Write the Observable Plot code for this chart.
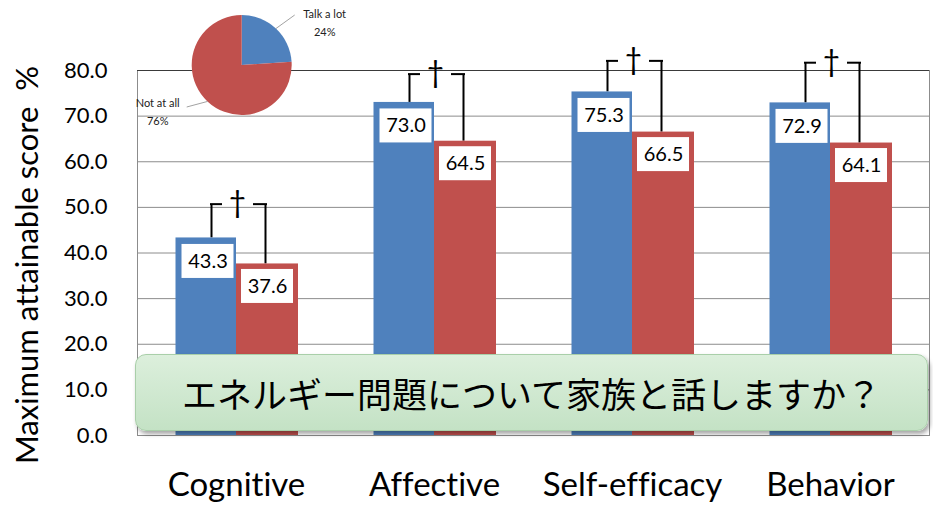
<!DOCTYPE html>
<html>
<head>
<meta charset="utf-8">
<script src="https://cdn.jsdelivr.net/npm/d3@7"></script>
<script src="https://cdn.jsdelivr.net/npm/@observablehq/plot@0.6"></script>
<style>
  body { margin: 0; background: #fff; }
  #chart { position: relative; width: 933px; height: 505px; font-family: Lato, sans-serif; font-variant-ligatures: none; }
  #chart > svg { position: absolute; left: 0; top: 0; }
  #chart text { font-variant-ligatures: none; }
  #chart [aria-label^="x-axis"] text { font-size: 33px; fill: #000; }
  #chart [aria-label^="y-axis"] text { font-size: 22px; fill: #000; }
  #question {
    position: absolute; left: 135px; top: 354px; width: 793px; height: 77px;
    box-sizing: border-box; border: 1px solid #a9cfa9; border-radius: 11px;
    background: linear-gradient(#dcefdc, #c4e2c5);
    box-shadow: 2px 3px 4px rgba(0,0,0,0.35);
    display: flex; align-items: center; justify-content: center;
    font-family: "Noto Sans CJK JP", sans-serif; font-size: 35px; color: #000;
  }
</style>
</head>
<body>
<div id="chart"></div>
<script>
// Score categories and the two groups of respondents
const categories = ["Cognitive", "Affective", "Self-efficacy", "Behavior"];
const talkALot = [43.3, 73.0, 75.3, 72.9];
const notAtAll = [37.6, 64.5, 66.5, 64.1];
// Height of each significance bracket (†)
const bracketTop = [50.6, 79.1, 82.0, 81.6];
const yTicks = [0, 10, 20, 30, 40, 50, 60, 70, 80];
const yTitle = "Maximum attainable score  %";

// Inset pie: share of respondents per answer
const pieLabels = ["Talk a lot", "Not at all"];
const pieShares = [24, 76];

const question = "エネルギー問題について家族と話しますか？";

const blue = "#4F81BD";
const red = "#C0504D";
const gridColor = "#8c8c8c";

const rows = categories.map((category, i) => ({
  category,
  talk: talkALot[i],
  not: notAtAll[i],
  top: bracketTop[i]
}));

const chart = Plot.plot({
  width: 933,
  height: 505,
  marginLeft: 137,
  marginRight: 4,
  marginTop: 70,
  marginBottom: 70,
  style: { fontFamily: "Lato, sans-serif", fontSize: "22px", background: "transparent", color: "#000" },
  x: { domain: categories, padding: 0, tickSize: 0, tickPadding: 37, label: null },
  y: { domain: [0, 80], ticks: yTicks, tickFormat: d3.format(".1f"), tickSize: 0, tickPadding: 30, label: null },
  marks: [
    Plot.ruleY(yTicks.filter(d => d > 0 && d < 80), { stroke: gridColor }),
    Plot.frame({ stroke: gridColor }),
    Plot.ruleY([80], { stroke: "#3a3a3a" }),

    // significance brackets: legs down to each bar top, short arms either side of the dagger
    Plot.ruleX(rows, { x: "category", y1: "talk", y2: "top", dx: -25, stroke: "#000", strokeWidth: 2 }),
    Plot.ruleX(rows, { x: "category", y1: "not", y2: "top", dx: 29, stroke: "#000", strokeWidth: 2 }),
    Plot.barY(rows, { x: "category", y1: "top", y2: "top", fill: "#000",
      insetLeft: 73, insetRight: 113, insetTop: -1, insetBottom: -1 }),
    Plot.barY(rows, { x: "category", y1: "top", y2: "top", fill: "#000",
      insetLeft: 116, insetRight: 68, insetTop: -1, insetBottom: -1 }),
    Plot.text(rows, { x: "category", y: "top", text: () => "†", dx: 1, dy: -1, fontSize: 30, fill: "#000" }),

    // bars
    Plot.barY(rows, { x: "category", y: "talk", fill: blue, insetLeft: 38.5, insetRight: 99 }),
    Plot.barY(rows, { x: "category", y: "not", fill: red, insetLeft: 99, insetRight: 37 }),

    // white value boxes just under each bar top
    Plot.barY(rows, { x: "category", y1: "talk", y2: "talk", fill: "white",
      insetLeft: 44.5, insetRight: 101.5, insetTop: 6.5, insetBottom: -40.5 }),
    Plot.barY(rows, { x: "category", y1: "not", y2: "not", fill: "white",
      insetLeft: 104, insetRight: 42, insetTop: 5.5, insetBottom: -39.5 }),
    Plot.text(rows, { x: "category", y: "talk", text: d => d.talk.toFixed(1),
      dx: -28.5, dy: 23.5, fontSize: 20, fill: "#000" }),
    Plot.text(rows, { x: "category", y: "not", text: d => d.not.toFixed(1),
      dx: 31, dy: 22.5, fontSize: 20, fill: "#000" }),

    // axis title
    Plot.text([yTitle], { text: d => d, frameAnchor: "left", textAnchor: "middle", rotate: -90,
      dx: -109, dy: 12, fontSize: 31, fill: "#000" })
  ]
});
document.getElementById("chart").appendChild(chart);

// Inset pie chart drawn with d3
const pieCx = 241.7, pieCy = 65, pieR = 50;
const slices = d3.pie().sort(null).value(d => d)(pieShares);
const arc = d3.arc().innerRadius(0).outerRadius(pieR);
const pieSvg = d3.select("#chart").append("svg")
  .attr("width", 933).attr("height", 505)
  .style("pointer-events", "none");
const pg = pieSvg.append("g").attr("transform", `translate(${pieCx},${pieCy})`);
pg.selectAll("path").data(slices).join("path")
  .attr("d", arc)
  .attr("fill", (d, i) => [blue, red][i]);

// label placement around the pie
const labelPos = [[83, -43], [-84, 46]];
const leaderEnd = [[53, -50], [-55, 42]];
slices.forEach((s, i) => {
  const a = (s.startAngle + s.endAngle) / 2;
  const px = pieR * Math.sin(a), py = -pieR * Math.cos(a);
  pg.append("line")
    .attr("x1", px).attr("y1", py)
    .attr("x2", leaderEnd[i][0]).attr("y2", leaderEnd[i][1])
    .attr("stroke", "#8a8a8a").attr("stroke-width", 0.8);
  const t = pg.append("text")
    .attr("x", labelPos[i][0]).attr("y", labelPos[i][1])
    .attr("text-anchor", "middle")
    .attr("font-family", "Lato, sans-serif").attr("font-size", 11).attr("fill", "#222");
  t.append("tspan").attr("x", labelPos[i][0]).attr("dy", "-0.35em").text(pieLabels[i]);
  t.append("tspan").attr("x", labelPos[i][0]).attr("dy", "1.65em").text(pieShares[i] + "%");
});

// question banner
const banner = document.createElement("div");
banner.id = "question";
banner.textContent = question;
document.getElementById("chart").appendChild(banner);
</script>
</body>
</html>
